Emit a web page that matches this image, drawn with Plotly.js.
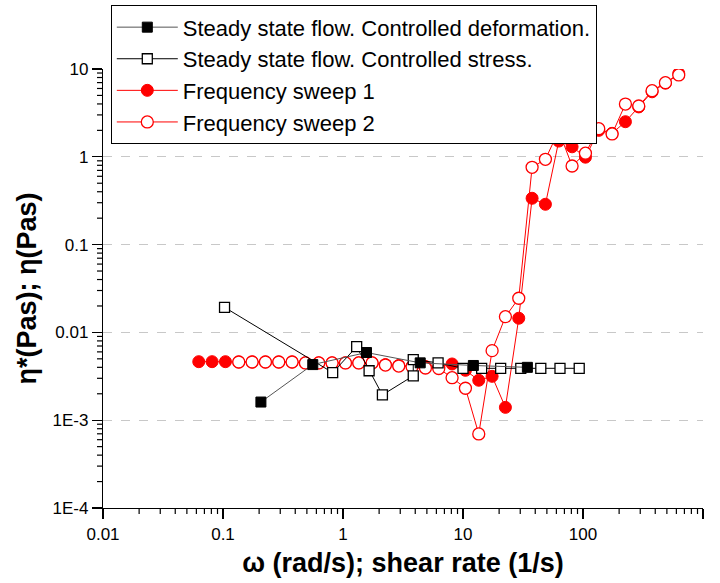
<!DOCTYPE html>
<html>
<head>
<meta charset="utf-8">
<script src="https://cdn.plot.ly/plotly-3.0.1.min.js"></script>
<style>html,body{margin:0;padding:0;background:#fff;}#chart{width:720px;height:583px;}</style>
</head>
<body>
<div id="chart"></div>
<script>
// ---- data ----
const seriesNames = [
  "Steady state flow. Controlled deformation.",
  "Steady state flow. Controlled stress.",
  "Frequency sweep 1",
  "Frequency sweep 2"
];

// Steady state flow, controlled deformation (shear rate 1/s, viscosity Pas)
const sdX = [0.207, 0.56, 1.57, 4.4, 12.2, 34.4];
const sdY = [0.00161, 0.0043, 0.0059, 0.0045, 0.0042, 0.0040];

// Steady state flow, controlled stress
const ssX = [0.103, 0.82, 1.30, 1.65, 2.13, 3.85, 3.85, 6.2, 10.0, 14.3, 20.6, 30.3, 44.5, 64.3, 93];
const ssY = [0.0193, 0.00348, 0.00687, 0.00366, 0.00194, 0.0032, 0.0049, 0.0045, 0.0039, 0.0039, 0.0039, 0.0039, 0.0039, 0.0039, 0.0039];

// Frequency sweep 1 (rad/s, complex viscosity Pas)
const fs1X = [0.0628, 0.0811, 0.1048, 0.1353, 0.1748, 0.2257, 0.2915, 0.3765, 0.4862, 0.628,
              0.811, 1.048, 1.353, 1.748, 2.257, 2.915, 3.765, 4.862, 6.28, 8.11,
              10.48, 13.53, 17.48, 22.57, 29.15, 37.65, 48.62, 62.8, 81.1, 104.8,
              135.3, 174.8, 225.7, 291.5, 376.5, 486.2, 628];
const fs1Y = [0.00464, 0.00464, 0.00464, 0.0046, 0.0046, 0.0046, 0.0046, 0.0046, 0.0045, 0.0045,
              0.0045, 0.0045, 0.0045, 0.0045, 0.0043, 0.0042, 0.0041, 0.0041, 0.0040, 0.00437,
              0.0037, 0.00285, 0.00316, 0.0014, 0.0145, 0.337, 0.288, 1.51, 1.30, 0.99,
              2.0, 1.85, 2.51, 3.7, 5.5, 6.9, 8.9];

// Frequency sweep 2
const fs2X = [0.1353, 0.1748, 0.2257, 0.2915, 0.3765, 0.4862, 0.628,
              0.811, 1.048, 1.353, 1.748, 2.257, 2.915, 3.765, 4.862, 6.28, 8.11,
              10.48, 13.53, 17.48, 22.57, 29.15, 37.65, 48.62, 62.8, 81.1, 104.8,
              135.3, 174.8, 225.7, 291.5, 376.5, 486.2, 628];
const fs2Y = [0.0046, 0.0046, 0.0046, 0.0046, 0.0046, 0.00449, 0.00449,
              0.00449, 0.00449, 0.00449, 0.00449, 0.00425, 0.00414, 0.00407, 0.00393, 0.00388, 0.00305,
              0.00231, 0.000697, 0.0062, 0.0151, 0.0245, 0.759, 0.937, 1.98, 0.786, 1.10,
              2.09, 1.82, 3.99, 3.79, 5.66, 6.98, 8.55];

const xTickVals = [0.01, 0.1, 1, 10, 100, 1000];
const xTickText = ["0.01", "0.1", "1", "10", "100", "1000"];
const yTickVals = [0.0001, 0.001, 0.01, 0.1, 1, 10];
const yTickText = ["1E-4", "1E-3", "0.01", "0.1", "1", "10"];
const yGridVals = [0.001, 0.01, 0.1, 1];

const X_RANGE = [-2, 3];   // log10 axis range
const Y_RANGE = [-4, 1];

// minor tick positions (2..9 inside each decade)
function minorTicks(decades) {
  const out = [];
  decades.forEach(function (d) {
    for (let m = 2; m <= 9; m++) out.push(m * d);
  });
  return out;
}
const xMinor = minorTicks(xTickVals.slice(0, -1));
const yMinor = minorTicks(yTickVals.slice(0, -1));

const FONT = "Liberation Sans, Arial, sans-serif";
const W = 720, H = 583, ML = 103, MR = 17, MT = 69, MB = 75;
const plotW = W - ML - MR, plotH = H - MT - MB;
const minorLen = 6;

// ---- traces ----
const traces = [
  {x: [1], y: [1], yaxis: "y2", mode: "markers", marker: {opacity: 0}, showlegend: false, hoverinfo: "skip"},
  {
    x: fs1X, y: fs1Y, name: seriesNames[2], type: "scatter", mode: "lines+markers",
    line: {color: "#ff0000", width: 1},
    marker: {symbol: "circle", size: 12, color: "#ff0000", line: {color: "#ff0000", width: 1}},
    legendrank: 3
  },
  {
    x: fs2X, y: fs2Y, name: seriesNames[3], type: "scatter", mode: "lines+markers",
    line: {color: "#ff0000", width: 1},
    marker: {symbol: "circle", size: 12, color: "#ffffff", line: {color: "#ff0000", width: 1.3}},
    legendrank: 4
  },
  {
    x: ssX, y: ssY, name: seriesNames[1], type: "scatter", mode: "lines+markers",
    line: {color: "#000000", width: 1},
    marker: {symbol: "square", size: 10, color: "#ffffff", line: {color: "#000000", width: 1.3}},
    legendrank: 2
  },
  {
    x: sdX, y: sdY, name: seriesNames[0], type: "scatter", mode: "lines+markers",
    line: {color: "#555555", width: 1},
    marker: {symbol: "square", size: 10, color: "#000000", line: {color: "#000000", width: 1}},
    legendrank: 1
  }
];

// minor tick marks (axis decoration) as paper-referenced line shapes
function toPaper(v, r) { return (Math.log10(v) - r[0]) / (r[1] - r[0]); }
const shapes = [];
xMinor.forEach(function (v) {
  const p = toPaper(v, X_RANGE);
  shapes.push({type: "line", xref: "paper", yref: "paper", x0: p, x1: p, y0: 0, y1: -minorLen / plotH,
               line: {color: "#000", width: 1.2}, layer: "above"});
});
yMinor.forEach(function (v) {
  const p = toPaper(v, Y_RANGE);
  shapes.push({type: "line", xref: "paper", yref: "paper", x0: 0, x1: -minorLen / plotW, y0: p, y1: p,
               line: {color: "#000", width: 1.2}, layer: "above"});
});

const axisFont = {family: FONT, size: 17, color: "#000"};
const titleFont = {family: FONT, size: 27, color: "#000", weight: "bold"};

const layout = {
  width: W, height: H,
  margin: {l: ML, r: MR, t: MT, b: MB, autoexpand: false},
  paper_bgcolor: "#ffffff", plot_bgcolor: "#ffffff",
  font: {family: FONT, size: 17, color: "#000"},
  showlegend: true,
  legend: {
    x: 0.013, y: 1.145, xanchor: "left", yanchor: "top",
    bgcolor: "#ffffff", bordercolor: "#000000", borderwidth: 1,
    font: {family: FONT, size: 22, color: "#000"},
    itemwidth: 61, tracegroupgap: 0
  },
  xaxis: {
    type: "log", range: X_RANGE,
    tickmode: "array", tickvals: xTickVals, ticktext: xTickText,
    ticks: "outside", ticklen: 10, tickwidth: 1.2, tickcolor: "#000",
    showline: true, linecolor: "#000", linewidth: 1.2,
    showgrid: false, zeroline: false, mirror: false,
    tickfont: axisFont,
    title: {text: "ω (rad/s); shear rate (1/s)", font: titleFont, standoff: 10}
  },
  yaxis: {
    type: "log", range: Y_RANGE,
    tickmode: "array", tickvals: yTickVals, ticktext: yTickText,
    ticks: "outside", ticklen: 10, tickwidth: 1.2, tickcolor: "#000",
    showline: true, linecolor: "#000", linewidth: 1.2,
    showgrid: false, zeroline: false, mirror: false,
    tickfont: axisFont,
    title: {text: "η*(Pas); η(Pas)", font: titleFont, standoff: 8}
  },
  yaxis2: {
    type: "log", range: Y_RANGE, overlaying: "y", side: "left", anchor: "x",
    tickmode: "array", tickvals: yGridVals,
    showticklabels: false, ticks: "",
    showgrid: true, gridcolor: "#c8c8c8", gridwidth: 1, griddash: "dash",
    showline: false, zeroline: false
  },
  shapes: shapes
};

Plotly.newPlot("chart", traces, layout, {displayModeBar: false, staticPlot: true});
</script>
</body>
</html>
